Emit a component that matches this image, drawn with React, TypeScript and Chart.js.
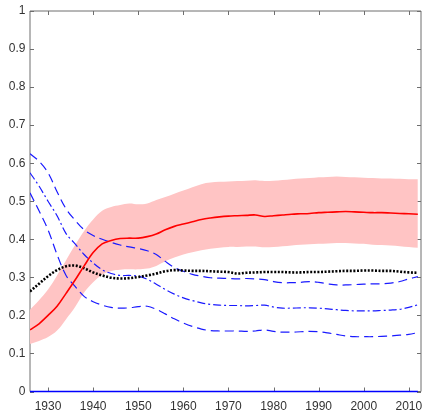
import React, { useEffect, useRef } from "react";
import { Chart, registerables } from "chart.js";

Chart.register(...registerables);

const years = [
  1926, 1928, 1930, 1932, 1934, 1936, 1938, 1940, 1942, 1944, 1946, 1948, 1950, 1952, 1954,
  1956, 1958, 1960, 1962, 1964, 1966, 1968, 1970, 1972, 1974, 1976, 1978, 1980, 1982, 1984,
  1986, 1988, 1990, 1992, 1994, 1996, 1998, 2000, 2002, 2004, 2006, 2008, 2010, 2012,
];

const meanShare = [
  0.162, 0.178, 0.2, 0.224, 0.258, 0.293, 0.33, 0.365, 0.388, 0.397, 0.402, 0.403, 0.403, 0.407, 0.414,
  0.425, 0.434, 0.44, 0.446, 0.452, 0.456, 0.459, 0.461, 0.462, 0.463, 0.464, 0.46, 0.462, 0.464, 0.466,
  0.467, 0.468, 0.47, 0.471, 0.472, 0.473, 0.472, 0.471, 0.47, 0.47, 0.469, 0.468, 0.467, 0.466,
];

const bandUpper = [
  0.215, 0.24, 0.268, 0.305, 0.345, 0.385, 0.422, 0.452, 0.475, 0.485, 0.49, 0.494, 0.492, 0.494, 0.503,
  0.511, 0.52, 0.528, 0.537, 0.545, 0.549, 0.551, 0.552, 0.553, 0.554, 0.555, 0.553, 0.554, 0.556, 0.558,
  0.56, 0.561, 0.563, 0.564, 0.565, 0.564, 0.563, 0.562, 0.561, 0.56, 0.56, 0.559, 0.558, 0.558,
];

const bandLower = [
  0.125, 0.133, 0.143, 0.16, 0.19, 0.222, 0.26, 0.287, 0.307, 0.317, 0.32, 0.321, 0.321, 0.323, 0.33,
  0.342, 0.352, 0.36, 0.366, 0.371, 0.375, 0.378, 0.38, 0.38, 0.381, 0.381, 0.379, 0.38, 0.382, 0.384,
  0.386, 0.387, 0.388, 0.389, 0.39, 0.39, 0.389, 0.388, 0.386, 0.385, 0.384, 0.382, 0.38, 0.378,
];

const dottedBlack = [
  0.263, 0.283, 0.303, 0.319, 0.329, 0.331, 0.324, 0.313, 0.305, 0.299, 0.297, 0.298, 0.301, 0.305, 0.31,
  0.316, 0.319, 0.318, 0.317, 0.317, 0.316, 0.315, 0.314, 0.31, 0.312, 0.313, 0.314, 0.314, 0.314, 0.313,
  0.313, 0.314, 0.314, 0.315, 0.316, 0.317, 0.317, 0.318, 0.318, 0.317, 0.317, 0.315, 0.313, 0.312,
];

const dashedUpper = [
  0.625, 0.605, 0.575, 0.525, 0.48, 0.45, 0.425, 0.41, 0.4, 0.392, 0.385, 0.38, 0.376, 0.37, 0.36,
  0.342, 0.326, 0.316, 0.308, 0.303, 0.299, 0.298, 0.297, 0.296, 0.297, 0.296, 0.294, 0.289, 0.286, 0.286,
  0.287, 0.289, 0.287, 0.283, 0.28, 0.28, 0.281, 0.282, 0.283, 0.283, 0.285, 0.289, 0.296, 0.302,
];

const dashDotMiddle = [
  0.575, 0.54, 0.5, 0.462, 0.415, 0.388, 0.36, 0.338, 0.32, 0.31, 0.305, 0.305, 0.303, 0.295, 0.282,
  0.268, 0.256, 0.246, 0.239, 0.233, 0.229, 0.227, 0.226, 0.226, 0.225, 0.226, 0.227, 0.222, 0.219, 0.219,
  0.22, 0.22, 0.219, 0.217, 0.215, 0.213, 0.212, 0.212, 0.212, 0.213, 0.214, 0.216, 0.221, 0.228,
];

const dashedLower = [
  0.522, 0.475, 0.425, 0.36, 0.305, 0.276, 0.25, 0.236, 0.227, 0.221, 0.219, 0.22, 0.223, 0.224, 0.216,
  0.204, 0.191, 0.18, 0.171, 0.164, 0.16, 0.159, 0.159, 0.159, 0.158, 0.159, 0.162, 0.158, 0.156, 0.156,
  0.157, 0.158, 0.157, 0.154, 0.15, 0.146, 0.144, 0.144, 0.144, 0.145, 0.146, 0.148, 0.15, 0.155,
];

const zeroLine = years.map(() => 0);

const xTicks = [1930, 1940, 1950, 1960, 1970, 1980, 1990, 2000, 2010];
const yTicks = [0, 0.1, 0.2, 0.3, 0.4, 0.5, 0.6, 0.7, 0.8, 0.9, 1];

const pts = (arr: number[]) => years.map((x, i) => ({ x, y: arr[i] }));

const boxPlugin = {
  id: "matlabBox",
  beforeDatasetsDraw(chart: any) {
    const { ctx, chartArea } = chart;
    const { left, right, top, bottom } = chartArea;
    const xs = chart.scales.x;
    const ys = chart.scales.y;
    ctx.save();
    ctx.strokeStyle = "#6e6e6e";
    ctx.lineWidth = 1;
    ctx.beginPath();
    ctx.rect(left, top, right - left, bottom - top);
    ctx.stroke();
    const tl = 4;
    ctx.beginPath();
    xs.ticks.forEach((t: any) => {
      const px = Math.round(xs.getPixelForValue(t.value)) + 0.5;
      ctx.moveTo(px, bottom);
      ctx.lineTo(px, bottom - tl);
      ctx.moveTo(px, top);
      ctx.lineTo(px, top + tl);
    });
    ys.ticks.forEach((t: any) => {
      const py = Math.round(ys.getPixelForValue(t.value)) + 0.5;
      ctx.moveTo(left, py);
      ctx.lineTo(left + tl, py);
      ctx.moveTo(right, py);
      ctx.lineTo(right - tl, py);
    });
    ctx.stroke();
    ctx.restore();
  },
};

export default function App() {
  const ref = useRef<HTMLCanvasElement>(null);
  useEffect(() => {
    if (!ref.current) return;
    const blue = "#1a1aff";
    const chart = new Chart(ref.current, {
      type: "line",
      data: {
        datasets: [
          {
            label: "zero",
            data: pts(zeroLine),
            borderColor: "#0000ff",
            borderWidth: 1.6,
            pointRadius: 0,
            clip: false as any,
            order: 0,
          },
          {
            label: "mean",
            data: pts(meanShare),
            borderColor: "#ff0000",
            borderWidth: 1.6,
            pointRadius: 0,
            tension: 0.35,
            order: 1,
          },
          {
            label: "dotted",
            data: pts(dottedBlack),
            borderColor: "#000000",
            borderWidth: 2.6,
            borderDash: [2, 1.6],
            pointRadius: 0,
            tension: 0.35,
            order: 2,
          },
          {
            label: "dashedUpper",
            data: pts(dashedUpper),
            borderColor: blue,
            borderWidth: 1.2,
            borderDash: [9, 5],
            pointRadius: 0,
            tension: 0.35,
            order: 3,
          },
          {
            label: "dashDot",
            data: pts(dashDotMiddle),
            borderColor: blue,
            borderWidth: 1.2,
            borderDash: [8, 3, 2, 3],
            pointRadius: 0,
            tension: 0.35,
            order: 4,
          },
          {
            label: "dashedLower",
            data: pts(dashedLower),
            borderColor: blue,
            borderWidth: 1.2,
            borderDash: [9, 5],
            pointRadius: 0,
            tension: 0.35,
            order: 5,
          },
          {
            label: "bandUpper",
            data: pts(bandUpper),
            borderWidth: 0,
            borderColor: "rgba(0,0,0,0)",
            backgroundColor: "#ffc4c4",
            fill: "+1",
            pointRadius: 0,
            tension: 0.35,
            order: 10,
          },
          {
            label: "bandLower",
            data: pts(bandLower),
            borderWidth: 0,
            borderColor: "rgba(0,0,0,0)",
            pointRadius: 0,
            tension: 0.35,
            order: 11,
          },
        ],
      },
      options: {
        animation: false,
        responsive: true,
        maintainAspectRatio: false,
        layout: { padding: { top: 11, right: 1, left: 0, bottom: 0 } },
        plugins: { legend: { display: false }, tooltip: { enabled: false } },
        scales: {
          x: {
            type: "linear",
            min: 1926,
            max: 2012.7,
            grid: { display: false, drawTicks: false },
            border: { display: false },
            afterBuildTicks: (s: any) => {
              s.ticks = xTicks.map((v) => ({ value: v }));
            },
            afterFit: (s: any) => {
              s.height = 19.5;
              s.paddingLeft = 0;
              s.paddingRight = 0;
            },
            ticks: {
              padding: 8,
              autoSkip: false,
              maxRotation: 0,
              color: "#333333",
              font: { family: "'Liberation Sans', Arial, sans-serif", size: 12 },
              callback: (v: any) => String(v),
            },
          },
          y: {
            type: "linear",
            min: 0,
            max: 1,
            grid: { display: false, drawTicks: false },
            border: { display: false },
            afterBuildTicks: (s: any) => {
              s.ticks = yTicks.map((v) => ({ value: v }));
            },
            afterFit: (s: any) => {
              s.width = 30;
              s.paddingTop = 0;
              s.paddingBottom = 0;
            },
            ticks: {
              padding: 4.5,
              color: "#333333",
              font: { family: "'Liberation Sans', Arial, sans-serif", size: 12 },
              callback: (v: any) => String(Math.round(v * 10) / 10),
            },
          },
        },
      },
      plugins: [boxPlugin],
    });
    return () => chart.destroy();
  }, []);
  return (
    <div style={{ position: "fixed", left: 0, top: 0, width: 422, height: 411, background: "#fff" }}>
      <canvas ref={ref} />
    </div>
  );
}
